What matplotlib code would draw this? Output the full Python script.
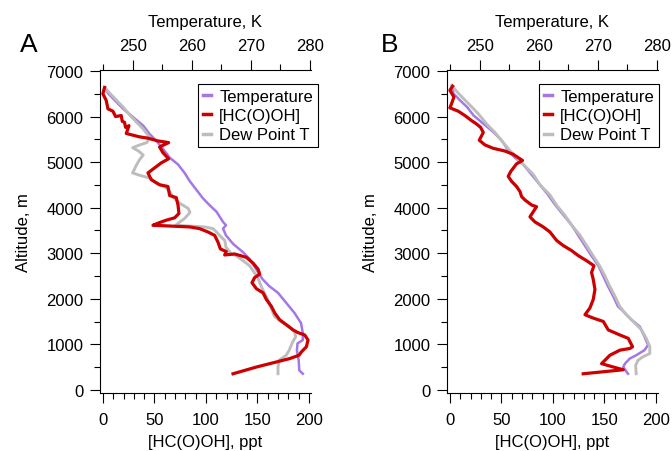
import numpy as np
import matplotlib.pyplot as plt
from matplotlib.ticker import MultipleLocator
from matplotlib.lines import Line2D

plt.rcParams['font.family'] = ['Liberation Sans', 'DejaVu Sans']
plt.rcParams['font.size'] = 12

# Panel A profiles
a_hcooh_alt = [6640, 6500, 6355, 6170, 6118, 6000, 6022, 5896, 5874, 5763, 5800, 5629, 5555,
               5526, 5466, 5429, 5333, 5207, 5074, 4985, 4874, 4763, 4615, 4503, 4466, 4266,
               4222, 4059, 3874, 3778, 3726, 3674, 3615, 3600, 3578, 3541, 3467, 3392, 3244,
               3096, 3037, 2963, 2985, 2911, 2785, 2652, 2541, 2467, 2355, 2222, 2133, 1985,
               1837, 1689, 1541, 1430, 1318, 1259, 1207, 1096, 948, 837, 763, 689, 615, 504, 356]
a_hcooh = [1.6, 0.0, 3.2, 4.9, 9.7, 12.3, 17.8, 18.8, 21.0, 22.0, 25.3, 22.7, 35.6,
           43.7, 53.4, 63.8, 55.0, 58.3, 63.8, 56.7, 50.2, 43.7, 47.0, 55.0, 63.1, 64.8,
           71.2, 72.9, 73.8, 69.6, 61.5, 55.0, 48.6, 63.1, 84.2, 93.9, 102.0, 108.5, 111.7,
           114.0, 119.8, 118.2, 127.9, 139.2, 145.7, 150.6, 152.2, 147.3, 144.7, 149.0, 155.4, 158.7,
           163.5, 166.8, 171.6, 178.1, 184.6, 189.4, 195.9, 199.1, 197.5, 192.7, 190.4, 181.3, 168.4, 149.0, 126.3]

a_temp_alt = [6615, 6503, 6355, 6170, 5985, 5800, 5615, 5466, 5333, 5096, 4948, 4763, 4578,
              4392, 4207, 4059, 3911, 3689, 3615, 3541, 3392, 3207, 3022, 2874, 2652, 2430,
              2281, 2133, 1911, 1689, 1467, 1244, 1096, 1022, 874, 652, 430, 356]
a_temp = [245.3, 245.9, 247.0, 248.4, 250.1, 251.8, 252.9, 254.0, 254.9, 256.3, 257.7, 258.8, 259.7,
          260.8, 261.9, 263.0, 264.2, 265.3, 265.8, 265.3, 265.8, 267.0, 268.7, 269.8, 270.9, 272.0,
          273.1, 274.6, 276.0, 277.4, 278.5, 278.8, 278.8, 277.9, 277.8, 278.1, 278.2, 278.8]

a_dew_alt = [6637, 6503, 6355, 6207, 6022, 5874, 5726, 5541, 5429, 5378, 5318, 5244, 5155,
             5059, 4948, 4763, 4711, 4652, 4541, 4466, 4355, 4222, 4096, 3985, 3896, 3763,
             3689, 3615, 3600, 3578, 3541, 3467, 3355, 3281, 3133, 3037, 2985, 2948, 2837,
             2726, 2578, 2467, 2355, 2207, 2059, 1911, 1615, 1504, 1393, 1281, 1170, 1059,
             874, 763, 652, 504, 356]
a_dew = [245.3, 246.2, 247.3, 248.4, 249.6, 250.7, 251.8, 252.9, 252.4, 251.2, 250.0, 251.0, 251.8,
         251.2, 250.7, 250.0, 251.2, 252.9, 254.0, 255.4, 256.3, 256.9, 258.0, 259.4, 259.7, 258.8,
         258.0, 257.3, 259.4, 262.2, 263.6, 264.2, 265.0, 265.6, 265.8, 266.4, 266.7, 267.5, 268.7,
         269.8, 270.6, 271.2, 271.5, 272.0, 272.6, 273.1, 274.0, 275.1, 276.5, 277.4, 277.6, 277.1,
         276.5, 276.0, 274.8, 274.6, 274.6]

# Panel B profiles
b_hcooh_alt = [6666, 6577, 6429, 6281, 6192, 6118, 6022, 5911, 5837, 5763, 5652, 5481, 5378,
               5303, 5244, 5170, 5037, 4963, 4800, 4689, 4578, 4466, 4355, 4244, 4170, 4059,
               4022, 3911, 3800, 3689, 3578, 3467, 3281, 3170, 3059, 2948, 2837, 2726, 2578,
               2430, 2207, 1985, 1800, 1652, 1578, 1504, 1318, 1207, 1133, 948, 911, 874,
               763, 689, 578, 504, 444, 356]
b_hcooh = [2.6, 0.0, 3.9, 1.6, 0.0, 8.1, 14.6, 21.0, 25.9, 29.8, 32.4, 28.5, 34.0,
           42.1, 53.4, 61.5, 70.5, 64.7, 59.2, 56.6, 59.9, 64.7, 68.0, 69.6, 72.8, 79.3,
           84.1, 80.9, 77.7, 82.5, 90.6, 97.1, 103.6, 110.0, 118.1, 124.6, 132.7, 139.8, 137.5,
           139.1, 140.8, 139.1, 135.9, 131.1, 139.1, 148.9, 153.7, 165.0, 173.1, 177.3, 174.7, 165.0,
           155.3, 152.1, 147.2, 158.6, 168.3, 129.4]

b_temp_alt = [6651, 6503, 6355, 6207, 6022, 5837, 5652, 5466, 5244, 5096, 4948, 4726, 4503,
              4281, 4059, 3837, 3615, 3392, 3170, 2948, 2726, 2504, 2281, 2059, 1837, 1689,
              1541, 1393, 1170, 985, 874, 763, 689, 578, 504, 430, 356]
b_temp = [245.3, 245.6, 246.7, 247.9, 249.0, 250.7, 252.4, 253.8, 254.9, 256.0, 257.4, 258.8, 260.2,
          261.6, 262.8, 264.2, 265.6, 266.7, 267.8, 268.9, 270.1, 270.9, 271.7, 272.6, 273.4, 274.6,
          275.7, 277.1, 277.9, 278.5, 277.9, 276.5, 275.4, 274.6, 274.3, 274.7, 275.1]

b_dew_alt = [6689, 6540, 6392, 6207, 6059, 5837, 5652, 5429, 5244, 5096, 4911, 4726, 4503,
             4281, 4059, 3837, 3615, 3392, 3170, 2948, 2726, 2504, 2281, 2059, 1837, 1652,
             1504, 1318, 1133, 948, 800, 726, 652, 541, 356]
b_dew = [245.3, 246.2, 247.3, 248.7, 249.8, 251.2, 252.6, 254.0, 255.2, 256.3, 257.7, 259.1, 260.2,
         261.9, 263.0, 264.4, 265.6, 267.0, 268.1, 269.2, 270.3, 271.2, 272.0, 272.9, 273.7, 274.8,
         276.0, 277.4, 278.2, 278.8, 278.8, 277.6, 276.8, 276.4, 276.5]

purple = '#a577e6'
red = '#cc0000'
grey = '#bdbdbd'

fig = plt.figure(figsize=(6.72, 4.52), dpi=100)


def panel(left, letter, letter_x, hc_alt, hc, t_alt, t, d_alt, d, legend_right):
    ax = fig.add_axes([left / 672, 1 - 394 / 452, 211 / 672, 323 / 452])
    ax2 = ax.twiny()
    ax2.plot(t, t_alt, color=purple, lw=1.8)
    ax2.plot(d, d_alt, color=grey, lw=2.1)
    ax.plot(hc, hc_alt, color=red, lw=2.3)
    # keep the HCOOH trace on top of the temperature traces
    ax.set_zorder(ax2.get_zorder() + 1)
    ax.patch.set_visible(False)

    ax.set_xlim(-3.3, 201.5)
    ax.set_ylim(-66, 7022)
    ax2.set_xlim(244.4, 280.1)

    ax.xaxis.set_major_locator(MultipleLocator(50))
    ax.xaxis.set_minor_locator(MultipleLocator(10))
    ax.yaxis.set_major_locator(MultipleLocator(1000))
    ax.yaxis.set_minor_locator(MultipleLocator(500))
    ax2.xaxis.set_major_locator(MultipleLocator(10))
    ax2.xaxis.set_minor_locator(MultipleLocator(5))

    for a in (ax, ax2):
        a.spines['right'].set_visible(False)
        a.tick_params(which='major', direction='out', length=7.5, width=0.8, labelsize=12, pad=4)
        a.tick_params(which='minor', direction='out', length=4, width=0.8)
    ax.tick_params(axis='x', which='major', pad=6)
    ax2.tick_params(axis='x', which='major', pad=5)
    ax.spines['top'].set_visible(False)
    ax2.spines['left'].set_visible(False)
    ax2.spines['bottom'].set_visible(False)

    ax.set_xlabel('[HC(O)OH], ppt', fontsize=12, labelpad=5)
    ax.set_ylabel('Altitude, m', fontsize=12, labelpad=11)
    ax2.set_xlabel('Temperature, K', fontsize=12, labelpad=8.5)

    handles = [Line2D([], [], color=purple, lw=2.5),
               Line2D([], [], color=red, lw=2.5),
               Line2D([], [], color=grey, lw=2.5)]
    leg = fig.legend(handles, ['Temperature', '[HC(O)OH]', 'Dew Point T'],
                     loc='upper right', bbox_to_anchor=(legend_right / 672, 1 - 85 / 452),
                     fontsize=12, handlelength=0.45, handletextpad=0.5,
                     borderpad=0.3, labelspacing=0.25, borderaxespad=0,
                     fancybox=False, framealpha=1)
    leg.get_frame().set_edgecolor('black')
    leg.get_frame().set_linewidth(0.8)

    fig.text(letter_x / 672, 1 - 45 / 452, letter, fontsize=19, ha='center', va='center')


panel(99.5, 'A', 29, a_hcooh_alt, a_hcooh, a_temp_alt, a_temp, a_dew_alt, a_dew, 318)
panel(446.5, 'B', 390, b_hcooh_alt, b_hcooh, b_temp_alt, b_temp, b_dew_alt, b_dew, 659)

fig.savefig('out.png', dpi=100)
